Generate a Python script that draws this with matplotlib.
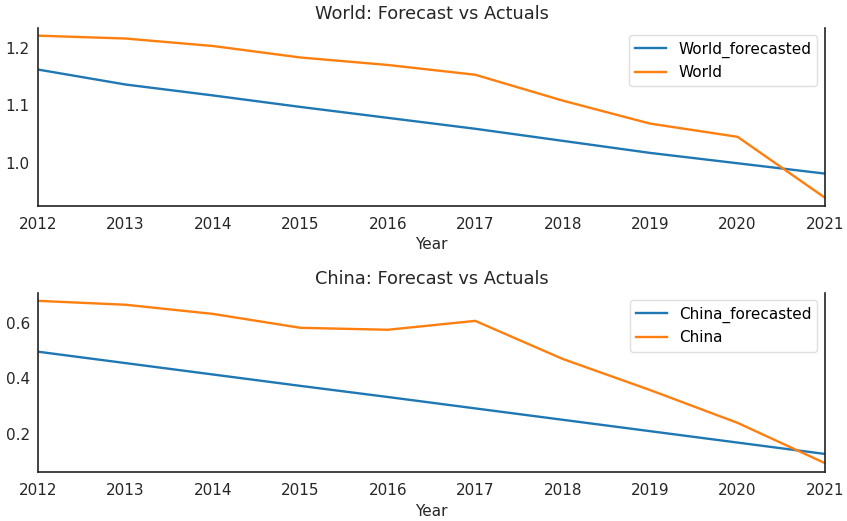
import matplotlib.pyplot as plt

years = [2012, 2013, 2014, 2015, 2016, 2017, 2018, 2019, 2020, 2021]

world_fc = [1.162, 1.136, 1.117, 1.097, 1.078, 1.059, 1.038, 1.017, 0.999, 0.981]
world = [1.221, 1.216, 1.203, 1.183, 1.170, 1.153, 1.108, 1.068, 1.045, 0.939]

china_fc = [0.496, 0.455, 0.414, 0.373, 0.333, 0.292, 0.251, 0.210, 0.169, 0.128]
china = [0.679, 0.665, 0.632, 0.582, 0.575, 0.607, 0.470, 0.358, 0.240, 0.095]

plt.rcParams['font.family'] = 'DejaVu Sans'
fig = plt.figure(figsize=(8.47, 5.21), dpi=100)
ax1 = fig.add_axes([0.045, 0.605, 0.929, 0.342])
ax2 = fig.add_axes([0.045, 0.094, 0.929, 0.344])

def draw(ax, fc, act, name, ylim, yticks):
    ax.plot(years, fc, color='#1f77b4', lw=1.7, label=name + '_forecasted')
    ax.plot(years, act, color='#ff7f0e', lw=1.7, label=name)
    ax.set_xlim(2012, 2021)
    ax.set_ylim(*ylim)
    ax.set_xticks(years)
    ax.set_yticks(yticks)
    ax.tick_params(axis='x', length=0, labelsize=11, colors='#262626', pad=8)
    ax.tick_params(axis='y', length=0, labelsize=11, colors='#262626', pad=6)
    for s in ['left', 'bottom', 'right']:
        ax.spines[s].set_color('#222222')
        ax.spines[s].set_linewidth(1.2)
    ax.spines['top'].set_visible(False)
    ax.set_xlabel('Year', fontsize=11, color='#262626', labelpad=4)
    ax.set_title(name + ': Forecast vs Actuals', fontsize=12.8, color='#262626')
    ax.legend(loc='upper right', fontsize=11, frameon=True, edgecolor='#d8d8d8')

draw(ax1, world_fc, world, 'World', (0.925, 1.235), [1.0, 1.1, 1.2])
draw(ax2, china_fc, china, 'China', (0.063, 0.708), [0.2, 0.4, 0.6])

fig.savefig('out.png', dpi=100)
